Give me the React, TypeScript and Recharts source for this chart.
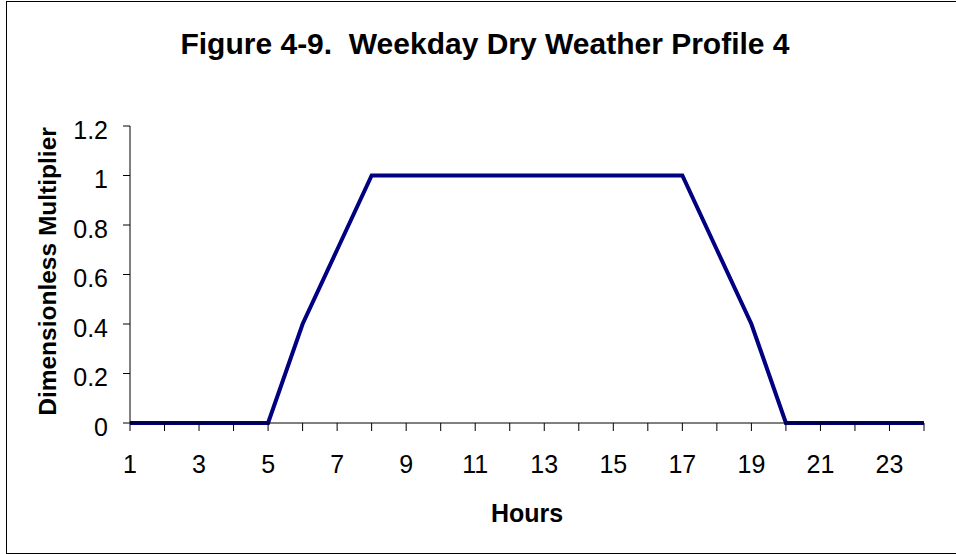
import React from "react"
import {
  LineChart,
  Line,
  XAxis,
  YAxis,
} from "recharts"

// hours 1..24
const hours = [1, 2, 3, 4, 5, 6, 7, 8, 9, 10, 11, 12, 13, 14, 15, 16, 17, 18, 19, 20, 21, 22, 23, 24]
const multiplier = [0, 0, 0, 0, 0, 0.4, 0.7, 1, 1, 1, 1, 1, 1, 1, 1, 1, 1, 0.7, 0.4, 0, 0, 0, 0, 0]
const yTicks = [0, 0.2, 0.4, 0.6, 0.8, 1, 1.2]

const data = hours.map((h, i) => ({ hour: h, value: multiplier[i] }))

const FONT = "'Liberation Sans', Arial, sans-serif"

export default function App() {
  return (
    <div
      style={{
        position: "absolute",
        left: 0,
        top: 0,
        width: 956,
        height: 554,
        overflow: "hidden",
        background: "#fff",
        fontFamily: FONT,
      }}
    >
      <div
        style={{
          position: "absolute",
          left: 6,
          top: 1,
          width: 1000,
          height: 553,
          border: "1px solid #000",
          boxSizing: "border-box",
        }}
      />
      <div
        style={{
          position: "absolute",
          left: 0,
          width: 970,
          top: 27,
          textAlign: "center",
          fontSize: 30,
          fontWeight: "bold",
          whiteSpace: "pre",
        }}
      >
        {"Figure 4-9.  Weekday Dry Weather Profile 4"}
      </div>
      <div style={{ position: "absolute", left: 0, top: 0 }}>
        <LineChart
          width={956}
          height={554}
          data={data}
          margin={{ top: 126, right: 32, bottom: 0, left: 0 }}
        >
          <XAxis
            xAxisId="top"
            orientation="top"
            dataKey="hour"
            type="number"
            domain={[1, 24]}
            tick={false}
            tickLine={false}
            height={0}
            axisLine={{ stroke: "#808080", strokeWidth: 1 }}
          />
          <YAxis
            yAxisId="right"
            orientation="right"
            domain={[0, 1.2]}
            tick={false}
            tickLine={false}
            width={0}
            axisLine={{ stroke: "#808080", strokeWidth: 1 }}
          />
          <XAxis
            dataKey="hour"
            type="number"
            domain={[1, 24]}
            ticks={hours}
            interval={0}
            height={131}
            tickSize={8}
            tickLine={{ stroke: "#000" }}
            axisLine={{ stroke: "#000" }}
            tickFormatter={(v: number) => (v % 2 === 1 ? String(v) : "")}
            tick={{ fill: "#000", fontSize: 25, fontFamily: FONT, dy: 22 }}
            label={{
              content: ({ viewBox }: any) => (
                <text
                  x={viewBox.x + viewBox.width / 2}
                  y={viewBox.y + 99}
                  textAnchor="middle"
                  fontSize={25}
                  fontWeight="bold"
                  fontFamily={FONT}
                  fill="#000"
                >
                  Hours
                </text>
              ),
            }}
          />
          <YAxis
            domain={[0, 1.2]}
            ticks={yTicks}
            interval={0}
            width={130}
            tickSize={7}
            tickLine={{ stroke: "#000" }}
            axisLine={{ stroke: "#000" }}
            tickFormatter={(v: number) => String(v)}
            tick={{ fill: "#000", fontSize: 25, fontFamily: FONT, dx: -13, dy: 4 }}
            label={{
              content: ({ viewBox }: any) => {
                const cx = viewBox.x + 56
                const cy = viewBox.y + viewBox.height / 2 - 3
                return (
                  <text
                    x={cx}
                    y={cy}
                    textAnchor="middle"
                    fontSize={24.5}
                    fontWeight="bold"
                    fontFamily={FONT}
                    fill="#000"
                    transform={`rotate(-90 ${cx} ${cy})`}
                  >
                    Dimensionless Multiplier
                  </text>
                )
              },
            }}
          />
          <Line
            dataKey="value"
            stroke="#000080"
            strokeWidth={4}
            dot={false}
            strokeLinejoin="miter"
            isAnimationActive={false}
          />
        </LineChart>
      </div>
    </div>
  )
}
